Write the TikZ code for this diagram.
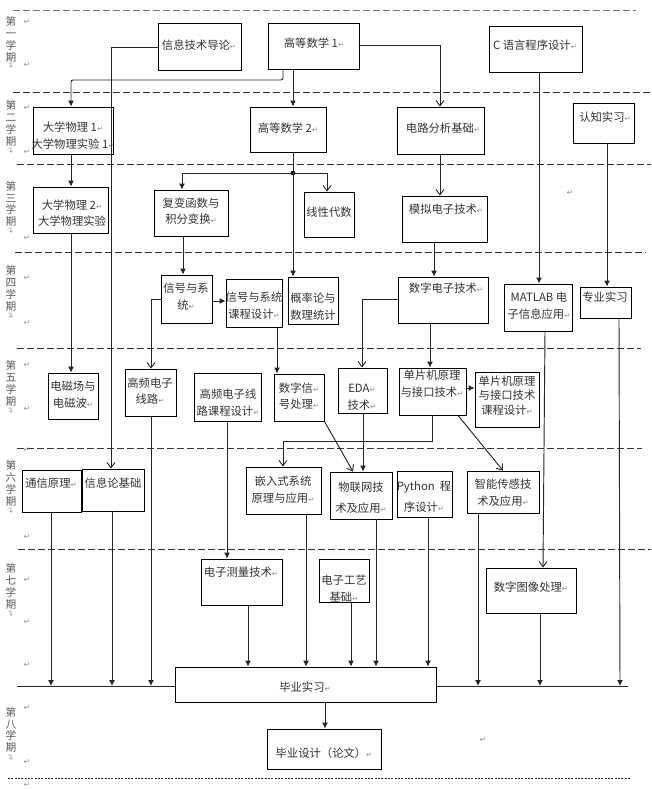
\documentclass[tikz,border=0pt]{standalone}
\usepackage{fontspec}
\newfontfamily\cjk{Noto Sans CJK SC}
\newfontfamily\djv{DejaVu Sans}
\usetikzlibrary{arrows.meta,fit,calc}
\newcommand\rt{{\djv\fontsize{5.5}{6}\selectfont\color{black!45}↵}}
\newcommand\cbox[5]{\node[box, fit={(#2,#3) (#4,#5)}] (#1) {};}
\tikzset{
  box/.style={draw=black, line width=0.65pt, inner sep=0pt},
  txt/.style={inner sep=0pt, align=center, font=\cjk\fontsize{8.5}{12.5}\selectfont, text=black!80},
  sem/.style={inner sep=0pt, align=center, font=\cjk\fontsize{8}{8.8}\selectfont, text=black!65},
  pm/.style={inner sep=0pt, font=\djv\fontsize{6}{6}\selectfont, text=black!40},
  con/.style={line width=0.7pt, draw=black!85},
  arf/.style={con, -{Latex[length=4.5pt,width=4.5pt]}},
  aro/.style={con, -{Straight Barb[length=4pt,width=6pt]}},
  sep/.style={dash pattern=on 5pt off 2.5pt, line width=0.7pt, draw=black!80},
  sepfine/.style={dash pattern=on 1.5pt off 1pt, line width=0.6pt, draw=black!85},
}
\begin{document}
\begin{tikzpicture}[x=0.75pt, y=-0.75pt]
\useasboundingbox (0,0) rectangle (651,789);
\fill[white] (0,0) rectangle (651,789);

% semester separators
\draw[sep, draw=black!55] (13,10) -- (636,10);
\draw[sep] (13,92) -- (651,92);
\draw[sep] (17,164) -- (651,164);
\draw[sep] (15,252) -- (646,252);
\draw[sep] (17,348) -- (641,348);
\draw[sep] (17,448) -- (642,448);
\draw[sep] (18,549) -- (651,549);
\draw[sepfine] (8,778) -- (630,778);

% semester labels
\node[sem] (s1) at (11,39.5) {第\\一\\学\\期};
\node[sem] (s2) at (11,123.5) {第\\二\\学\\期};
\node[sem] (s3) at (11,204) {第\\三\\学\\期};
\node[sem] (s4) at (11,288.5) {第\\四\\学\\期};
\node[sem] (s5) at (11,383.5) {第\\五\\学\\期};
\node[sem] (s6) at (11,483.5) {第\\六\\学\\期};
\node[sem] (s7) at (11,586.5) {第\\七\\学\\期};
\node[sem] (s8) at (11,730) {第\\八\\学\\期};
\foreach \n/\yy in {r1/65,r2/150,r3/230,r4/315,r5/410,r6/510,r7/613,r8/757}
  \node[pm, rotate=90] (\n) at (11,\yy) {↵};

% paragraph marks in the margin
\foreach \n/\yy in {m1/22,m2/65,m3/108,m4/152,m5/238,m6/278,m7/323,m8/365,m9/409,m10/450,m11/537,m12/580,m13/622,m14/665,m15/708,m16/762,m17/785}
  \node[pm] (\n) at (27,\yy) {↵};
\node[pm] (m18) at (570,193) {↵};
\node[pm] (m19) at (483,740) {↵};

% boxes
\cbox{xx}{158}{23}{241}{70}
\cbox{gs1}{268}{23}{359}{69}
\cbox{cy}{489}{26}{582}{72}
\cbox{dw1}{33}{107}{113}{154}
\cbox{gs2}{250}{107}{326}{152}
\cbox{dl}{397}{107}{484}{154}
\cbox{rz}{573}{103}{634}{143}
\cbox{dw2}{33}{187}{108}{233}
\cbox{fb}{154}{190}{228}{236}
\cbox{xd}{304}{192}{354}{237}
\cbox{mn}{402}{196}{487}{242}
\cbox{xh}{161}{275}{212}{323}
\cbox{xhk}{226}{279}{282}{327}
\cbox{gl}{288}{277}{338}{324}
\cbox{sz}{398}{277}{488}{323}
\cbox{ml}{504}{284}{572}{331}
\cbox{zy}{580}{287}{631}{318}
\cbox{dc}{48}{373}{98}{419}
\cbox{gp}{125}{369}{176}{416}
\cbox{gpk}{194}{373}{261}{421}
\cbox{dsp}{274}{374}{324}{421}
\cbox{eda}{338}{368}{387}{413}
\cbox{dp}{399}{368}{466}{415}
\cbox{dpk}{475}{372}{539}{427}
\cbox{tx}{22}{470}{81}{512}
\cbox{xl}{82}{469}{144}{511}
\cbox{qr}{246}{467}{321}{514}
\cbox{wl}{330}{472}{392}{519}
\cbox{py}{397}{471}{452}{517}
\cbox{zn}{467}{471}{539}{513}
\cbox{dz}{201}{559}{282}{605}
\cbox{gy}{319}{559}{369}{602}
\cbox{tx2}{486}{568}{576}{613}
\cbox{by}{175}{667}{436}{702}
\cbox{bs}{267}{729}{381}{769}

% texts
\node[txt] (xx-t) at (199,45) {信息技术导论\rt};
\node[txt] (gs1-t) at (314,43) {高等数学 1\rt};
\node[txt] (cy-t) at (535,45) {C 语言程序设计\rt};
\node[txt] (dw1-t) at (73,135.5) {大学物理 1\rt\\大学物理实验 1\rt};
\node[txt] (gs2-t) at (288,128) {高等数学 2\rt};
\node[txt] (dl-t) at (443,128) {电路分析基础\rt};
\node[txt] (rz-t) at (605,117) {认知实习\rt};
\node[txt] (dw2-t) at (72,213) {大学物理 2\rt\\大学物理实验};
\node[txt] (fb-t) at (191,211) {复变函数与\\积分变换\rt};
\node[txt] (xd-t) at (329,212) {线性代数};
\node[txt] (mn-t) at (446,209) {模拟电子技术\rt};
\node[txt] (xh-t) at (186,296.5) {信号与系\\统\rt};
\node[txt] (xhk-t) at (254,305.5) {信号与系统\\课程设计\rt};
\node[txt] (gl-t) at (313,306.5) {概率论与\\数理统计};
\node[txt] (sz-t) at (446,288) {数字电子技术\rt};
\node[txt] (ml-t) at (539,305.5) {MATLAB 电\\子信息应用\rt};
\node[txt] (zy-t) at (605,297) {专业实习};
\node[txt] (dc-t) at (73,395) {电磁场与\\电磁波\rt};
\node[txt] (gp-t) at (150,391) {高频电子\\线路\rt};
\node[txt] (gpk-t) at (228,403) {高频电子线\\路课程设计\rt};
\node[txt] (dsp-t) at (299,396) {数字信\rt\\号处理\rt};
\node[txt] (eda-t) at (362,397) {EDA\rt\\技术\rt};
\node[txt] (dp-t) at (432,384) {单片机原理\\与接口技术\rt};
\node[txt, font=\cjk\fontsize{8.5}{10.9}\selectfont] (dpk-t) at (507,395.5) {单片机原理\\与接口技术\\课程设计\rt};
\node[txt] (tx-t) at (51,483) {通信原理\rt};
\node[txt] (xl-t) at (113,483) {信息论基础};
\node[txt] (qr-t) at (283,489.5) {嵌入式系统\\原理与应用\rt};
\node[txt, font=\cjk\fontsize{8.5}{15.75}\selectfont] (wl-t) at (361,497.5) {物联网技\\术及应用\rt};
\node[txt, font=\cjk\fontsize{8.5}{15.75}\selectfont] (py-t) at (424,496.5) {Python\ \ 程\\序设计\rt};
\node[txt] (zn-t) at (503,493) {智能传感技\\术及应用\rt};
\node[txt] (dz-t) at (241,572) {电子测量技术\rt};
\node[txt] (gy-t) at (344,588.5) {电子工艺\\基础\rt};
\node[txt] (tx2-t) at (531,587) {数字图像处理\rt};
\node[txt] (by-t) at (305,687) {毕业实习\rt};
\node[txt] (bs-t) at (324,753) {毕业设计（论文）\rt};

% junction and practice line ends
\fill[black] (293,173) circle[radius=2.3] coordinate (jn);
\coordinate (hl) at (17,686);
\coordinate (hr) at (628,686);

% connectors
\draw[arf, rounded corners=1.5pt] (gs1.south -| 283,0) -- (283,80) -- (71,80) -- (dw1.north -| 71,0);
\draw[arf] (gs1.south -| 293,0) -- (gs2.north -| 293,0);
\draw[aro] (gs1.east |- 0,45) -| (dl.north -| 440,0);
\draw[aro] (xx.west |- 0,47) -| (xl.north -| 111,0);
\draw[arf] (dw1.south -| 71,0) -- (dw2.north -| 71,0);
\draw[arf] (dw2.south -| 71,0) -- (dc.north -| 71,0);
\draw[arf] (gs2.south -| 293,0) -- (gl.north -| 293,0);
\draw[arf] (jn) -| (fb.north -| 182,0);
\draw[aro] (jn) -| (xd.north -| 327,0);
\draw[arf] (fb.south -| 183,0) -- (xh.north -| 183,0);
\draw[arf] (xh.east |- 0,301) -- (xhk.west |- 0,301);
\draw[aro] (xh.west |- 0,299) -| (gp.north -| 151,0);
\draw[arf] (xhk.south -| 277,0) -- (dsp.north -| 277,0);
\draw[aro] (dl.south -| 440,0) -- (mn.north -| 440,0);
\draw[arf] (mn.south -| 434,0) -- (sz.north -| 434,0);
\draw[arf] (cy.south -| 539,0) -- (ml.north -| 539,0);
\draw[arf] (rz.south -| 607,0) -- (zy.north -| 607,0);
\draw[aro] (sz.west |- 0,299) -| (eda.north -| 362,0);
\draw[arf] (sz.south -| 430,0) -- (dp.north -| 430,0);
\draw[arf] (dp.east |- 0,388) -- (dpk.west |- 0,388);
\draw[aro] (dp.south -| 432,0) -- (432,441) -| (qr.north -| 283,0);
\draw[aro] (dp.south -| 458,0) -- (zn.north -| 503,0);
\draw[aro] (dsp.south east) -- (wl.north -| 353,0);
\draw[arf] (eda.south -| 363,0) -- (wl.north -| 363,0);
\draw[arf] (tx.south -| 51,0) -- (hl -| 51,0);
\draw[arf] (xl.south -| 112,0) -- (hl -| 112,0);
\draw[arf] (gp.south -| 151,0) -- (hl -| 151,0);
\draw[arf] (gpk.south -| 227,0) -- (dz.north -| 227,0);
\draw[arf] (dz.south -| 248,0) -- (by.north -| 248,0);
\draw[arf] (qr.south -| 306,0) -- (by.north -| 306,0);
\draw[arf] (gy.south -| 351,0) -- (by.north -| 351,0);
\draw[arf] (wl.south -| 376,0) -- (by.north -| 376,0);
\draw[arf] (py.south -| 428,0) -- (by.north -| 428,0);
\draw[arf] (zn.south -| 478,0) -- (hr -| 478,0);
\draw[aro] (ml.south -| 545,0) -- (tx2.north -| 543,0);
\draw[arf] (tx2.south -| 540,0) -- (hr -| 540,0);
\draw[arf] (zy.south -| 619,0) -- (hr -| 620,0);
\draw[arf] (by.south -| 325,0) -- (bs.north -| 325,0);
\draw[con] (hl) -- (by.west |- hl);
\draw[con] (by.east |- hr) -- (hr);
\end{tikzpicture}
\end{document}
